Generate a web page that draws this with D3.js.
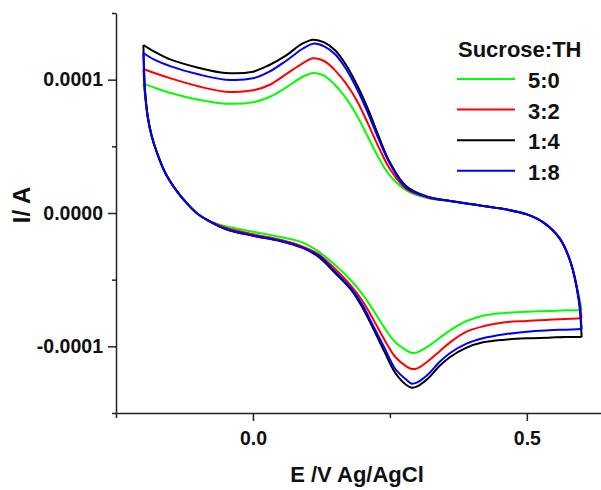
<!DOCTYPE html>
<html>
<head>
<meta charset="utf-8">
<script src="https://cdn.jsdelivr.net/npm/d3@7"></script>
<style>
  body { margin: 0; background: #fff; }
  svg text { font-family: "Liberation Sans", Arial, sans-serif; font-weight: bold; fill: #111; }
</style>
</head>
<body>
<div id="chart"></div>
<script>
// cyclic voltammograms, current in units of 1e-4 A
var seriesNames = ["5:0", "3:2", "1:4", "1:8"];
var seriesColors = ["#00ff00", "#ff0000", "#000000", "#0000ff"];

// forward scan (upper branch), potential in V
var eFwd = [-0.2, -0.18, -0.15, -0.1, -0.05, 0, 0.03, 0.06, 0.09, 0.11, 0.13, 0.15, 0.17, 0.19,
    0.21, 0.23, 0.25, 0.28, 0.32, 0.36, 0.4, 0.45, 0.5, 0.53, 0.56, 0.58, 0.595, 0.6];
var iFwd50 = [0.97, 0.94, 0.90, 0.85, 0.82, 0.83, 0.87, 0.94, 1.02, 1.05, 1.03, 0.96, 0.86, 0.73,
    0.57, 0.41, 0.28, 0.17, 0.11, 0.09, 0.065, 0.035, -0.01, -0.07, -0.19, -0.37, -0.62, -0.73];
var iFwd32 = [1.08, 1.05, 1.01, 0.95, 0.91, 0.92, 0.96, 1.04, 1.12, 1.16, 1.14, 1.07, 0.97, 0.84,
    0.67, 0.49, 0.33, 0.18, 0.115, 0.09, 0.065, 0.035, -0.01, -0.07, -0.19, -0.37, -0.64, -0.79];
var iFwd14 = [1.26, 1.21, 1.15, 1.09, 1.05, 1.06, 1.11, 1.18, 1.27, 1.30, 1.28, 1.22, 1.11, 0.96,
    0.78, 0.57, 0.38, 0.20, 0.12, 0.09, 0.065, 0.035, -0.01, -0.07, -0.19, -0.37, -0.66, -0.93];
var iFwd18 = [1.20, 1.15, 1.10, 1.04, 1.00, 1.01, 1.06, 1.14, 1.23, 1.27, 1.25, 1.19, 1.08, 0.93,
    0.75, 0.55, 0.37, 0.19, 0.12, 0.09, 0.065, 0.035, -0.01, -0.07, -0.19, -0.37, -0.65, -0.87];

// reverse scan (lower branch), listed by increasing potential
var eRev = [-0.2, -0.197, -0.192, -0.185, -0.175, -0.16, -0.14, -0.12, -0.1, -0.08, -0.05, 0,
    0.05, 0.09, 0.12, 0.15, 0.18, 0.2, 0.22, 0.24, 0.26, 0.28, 0.29, 0.3, 0.32, 0.34, 0.36,
    0.39, 0.42, 0.46, 0.5, 0.54, 0.57, 0.6];
var iRev50 = [0.97, 0.88, 0.72, 0.58, 0.45, 0.30, 0.17, 0.07, -0.01, -0.06, -0.10, -0.14,
    -0.18, -0.22, -0.29, -0.39, -0.51, -0.61, -0.73, -0.86, -0.97, -1.03, -1.05, -1.045, -1.00, -0.94, -0.88,
    -0.81, -0.77, -0.75, -0.74, -0.735, -0.73, -0.73];
var iRev32 = [1.08, 0.90, 0.72, 0.58, 0.45, 0.30, 0.17, 0.07, -0.01, -0.06, -0.11, -0.16,
    -0.20, -0.25, -0.31, -0.42, -0.55, -0.66, -0.80, -0.95, -1.08, -1.15, -1.17, -1.165, -1.11, -1.04, -0.97,
    -0.89, -0.85, -0.82, -0.81, -0.80, -0.795, -0.79];
var iRev14 = [1.26, 0.92, 0.72, 0.58, 0.45, 0.30, 0.17, 0.07, -0.01, -0.06, -0.12, -0.17,
    -0.21, -0.26, -0.33, -0.45, -0.58, -0.71, -0.87, -1.04, -1.20, -1.29, -1.31, -1.30, -1.24, -1.15, -1.08,
    -1.01, -0.97, -0.95, -0.94, -0.935, -0.93, -0.93];
var iRev18 = [1.20, 0.91, 0.72, 0.58, 0.45, 0.30, 0.17, 0.07, -0.01, -0.06, -0.12, -0.17,
    -0.21, -0.26, -0.32, -0.44, -0.57, -0.69, -0.85, -1.01, -1.17, -1.25, -1.28, -1.27, -1.21, -1.12, -1.05,
    -0.98, -0.94, -0.91, -0.89, -0.88, -0.875, -0.87];

var xMajor = [0, 0.5];
var xMinor = [-0.25, 0.25];
var yMajor = [-0.0001, 0, 0.0001];
var yMinor = [-0.00015, -0.00005, 0.00005, 0.00015];

var fwd = [iFwd50, iFwd32, iFwd14, iFwd18];
var rev = [iRev50, iRev32, iRev14, iRev18];

var width = 601, height = 490;

var svg = d3.select("#chart").append("svg")
    .attr("width", width)
    .attr("height", height);

var x = d3.scaleLinear().domain([-0.25, 0.65]).range([116, 609]);
var y = d3.scaleLinear().domain([-0.00015, 0.00015]).range([413, 13]);

var line = d3.line()
    .x(function (d) { return x(d[0]); })
    .y(function (d) { return y(d[1] * 1e-4); })
    .curve(d3.curveCatmullRom.alpha(0.5));

// curves
var curves = svg.append("g").attr("class", "curves");
for (var s = 0; s < seriesNames.length; s++) {
    var up = eFwd.map(function (e, i) { return [e, fwd[s][i]]; });
    var down = eRev.map(function (e, i) { return [e, rev[s][i]]; });
    [up, down].forEach(function (branch) {
        curves.append("path")
            .attr("d", line(branch))
            .attr("fill", "none")
            .attr("stroke", seriesColors[s])
            .attr("stroke-width", 2)
            .attr("stroke-linejoin", "round");
    });
}

// axes
function styleAxis(g) {
    g.selectAll("path, line").attr("stroke", "#222").attr("stroke-width", 1.5);
    g.selectAll("text").attr("font-size", "19.5px").attr("fill", "#111");
}

svg.append("g")
    .attr("transform", "translate(0,413)")
    .call(d3.axisBottom(x).tickValues(xMinor).tickSize(5).tickSizeOuter(0).tickFormat(""))
    .call(styleAxis);

svg.append("g")
    .attr("transform", "translate(0,413)")
    .call(d3.axisBottom(x).tickValues(xMajor).tickSize(8).tickSizeOuter(0).tickPadding(10)
        .tickFormat(d3.format(".1f")))
    .call(styleAxis)
    .call(function (g) { g.select(".domain").remove(); });

svg.append("g")
    .attr("transform", "translate(116,0)")
    .call(d3.axisLeft(y).tickValues(yMinor).tickSize(4).tickSizeOuter(0).tickFormat(""))
    .call(styleAxis);

svg.append("g")
    .attr("transform", "translate(116,0)")
    .call(d3.axisLeft(y).tickValues(yMajor).tickSize(8).tickSizeOuter(0).tickPadding(5)
        .tickFormat(function (d) { return d3.format(".4f")(d).replace("−", "-"); }))
    .call(styleAxis)
    .call(function (g) { g.select(".domain").remove(); });

// axis titles
svg.append("text")
    .attr("x", 357)
    .attr("y", 482)
    .attr("text-anchor", "middle")
    .attr("font-size", "22px")
    .text("E /V Ag/AgCl");

svg.append("text")
    .attr("transform", "translate(30,205) rotate(-90)")
    .attr("text-anchor", "middle")
    .attr("font-size", "24px")
    .text("I/ A");

// legend
var legend = svg.append("g").attr("class", "legend");
legend.append("text")
    .attr("x", 458)
    .attr("y", 57)
    .attr("font-size", "22px")
    .text("Sucrose:TH");

var item = legend.selectAll("g.item")
    .data(seriesNames)
    .enter().append("g")
    .attr("class", "item")
    .attr("transform", function (d, i) { return "translate(0," + (79 + i * 30.6) + ")"; });

item.append("line")
    .attr("x1", 457).attr("x2", 515)
    .attr("stroke", function (d, i) { return seriesColors[i]; })
    .attr("stroke-width", 2);

item.append("text")
    .attr("x", 528)
    .attr("y", 9)
    .attr("font-size", "22px")
    .text(function (d) { return d; });
</script>
</body>
</html>
